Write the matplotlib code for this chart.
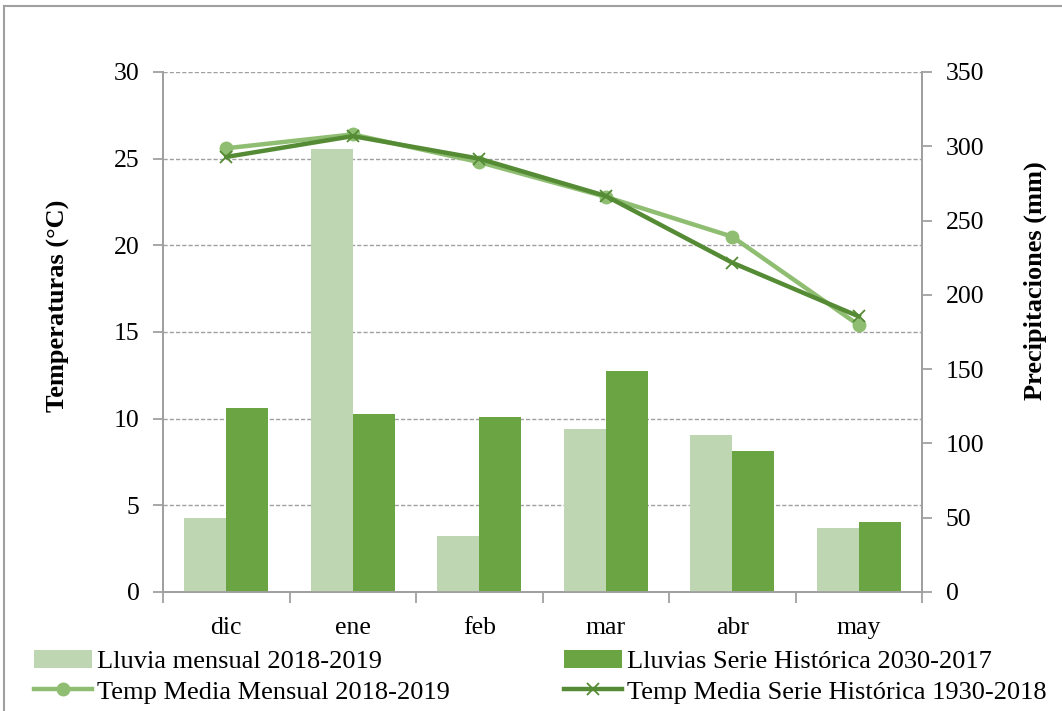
import numpy as np
import matplotlib
matplotlib.use("Agg")
import matplotlib.pyplot as plt
from matplotlib.lines import Line2D
from matplotlib.ticker import FixedLocator

plt.rcParams['font.family'] = ['Liberation Serif', 'DejaVu Serif']

# data
meses = ["dic", "ene", "feb", "mar", "abr", "may"]
lluvia_2018 = [50, 298, 38, 110, 106, 43]
lluvia_hist = [124, 120, 118, 149, 95, 47]
temp_2018 = [25.6, 26.4, 24.8, 22.8, 20.5, 15.4]
temp_hist = [25.1, 26.3, 25.0, 22.85, 19.0, 15.9]
temp_ticks = [0, 5, 10, 15, 20, 25, 30]
prec_ticks = [0, 50, 100, 150, 200, 250, 300, 350]

c_bar_light = "#BED7B2"
c_bar_dark = "#6AA443"
c_line_light = "#8FBE72"
c_line_dark = "#548B34"
c_axis = "#A0A0A0"

W, H = 1062, 711
fig = plt.figure(figsize=(W / 100, H / 100), dpi=100)
ax = fig.add_axes([163 / W, 1 - 592 / H, 759 / W, 520 / H])
ax2 = ax.twinx()
ax.set_zorder(2)
ax2.set_zorder(1)
ax.patch.set_visible(False)

x = np.arange(len(meses))
w = 1 / 3
b1 = ax2.bar(x - w / 2, lluvia_2018, width=w, color=c_bar_light, zorder=3,
             label="Lluvia mensual 2018-2019")
b2 = ax2.bar(x + w / 2, lluvia_hist, width=w, color=c_bar_dark, zorder=3,
             label="Lluvias Serie Histórica 2030-2017")

# dashed gridlines at temperature ticks, behind bars
for t in temp_ticks[1:]:
    ax2.axhline(t * 350 / 30, color=c_axis, ls=(0, (3, 1.5)), lw=1, zorder=1)

l1, = ax.plot(x, temp_2018, color=c_line_light, lw=3.2, marker="o", ms=9,
              label="Temp Media Mensual 2018-2019")
l2, = ax.plot(x, temp_hist, color=c_line_dark, lw=3.2, marker="x", ms=8,
              mew=1.3, label="Temp Media Serie Histórica 1930-2018")

ax.set_xlim(-0.5, len(meses) - 0.5)
ax.set_ylim(0, 30)
ax2.set_ylim(0, 350)
ax.set_yticks(temp_ticks)
ax2.set_yticks(prec_ticks)
ax.set_xticks(x)
ax.set_xticklabels(meses)
ax.xaxis.set_minor_locator(FixedLocator(np.arange(-0.5, len(meses), 1)))

for a in (ax, ax2):
    for s in a.spines.values():
        s.set_color(c_axis)
        s.set_linewidth(1.3)
    a.spines['top'].set_visible(False)
    a.tick_params(axis='both', colors=c_axis, labelcolor='black',
                  labelsize=18.5, length=7, width=1.3, direction='out')
ax.tick_params(axis='x', which='major', length=0, pad=18)
ax.tick_params(axis='x', which='minor', length=8, width=1.3, color=c_axis)
ax.tick_params(axis='y', pad=10)
ax2.tick_params(axis='y', pad=10)

# axis titles (placed as in the reference, a bit above centre)
fig.text(58 / W, 1 - 306 / H, "Temperaturas (°C)", rotation=90, fontsize=19,
         fontweight='bold', ha='center', va='center')
fig.text(1035 / W, 1 - 281 / H, "Precipitaciones (mm)", rotation=90, fontsize=19,
         fontweight='bold', ha='center', va='center')

leg_kw = dict(frameon=False, fontsize=19, handlelength=2.2, handletextpad=0.2,
              labelspacing=0.25, borderpad=0, borderaxespad=0)
fig.legend(handles=[b1, l1], loc='upper left',
           bbox_to_anchor=(34 / W, 1 - 650 / H), **leg_kw)
fig.legend(handles=[b2, l2], loc='upper left',
           bbox_to_anchor=(564 / W, 1 - 650 / H), **leg_kw)

# outer chart frame
fig.add_artist(Line2D([4 / W, 1], [1 - 6 / H, 1 - 6 / H],
                      transform=fig.transFigure, color=c_axis, lw=1.5))
fig.add_artist(Line2D([4 / W, 4 / W], [0, 1 - 6 / H],
                      transform=fig.transFigure, color=c_axis, lw=1.5))

fig.savefig("out.png", dpi=100)
